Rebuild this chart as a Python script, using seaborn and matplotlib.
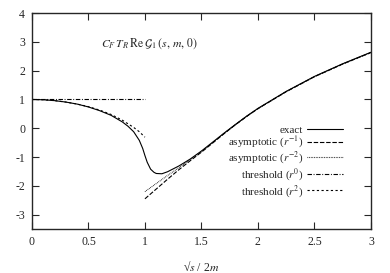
import matplotlib
matplotlib.use("Agg")
import matplotlib.pyplot as plt
import numpy as np
import pandas as pd
import seaborn as sbn

# exact curve
x_exact = [0, 0.1, 0.2, 0.3, 0.4, 0.5, 0.6, 0.7, 0.8, 0.85, 0.9, 0.95, 0.98, 1.0, 1.02,
           1.05, 1.08, 1.1, 1.15, 1.2, 1.3, 1.4, 1.5, 1.6, 1.7, 1.8, 1.9, 2.0, 2.25, 2.5,
           2.75, 3.0]
y_exact = [1.0, 0.99, 0.96, 0.91, 0.84, 0.74, 0.61, 0.45, 0.22, 0.07, -0.12, -0.42, -0.70,
           -0.95, -1.18, -1.42, -1.53, -1.57, -1.58, -1.51, -1.31, -1.07, -0.79, -0.48,
           -0.17, 0.13, 0.42, 0.69, 1.28, 1.80, 2.24, 2.64]

# asymptotic expansions (above threshold)
x_asym = [1.0, 1.1, 1.2, 1.3, 1.4, 1.5, 1.6, 1.7, 1.8, 1.9, 2.0, 2.25, 2.5, 2.75, 3.0]
y_asym1 = [-2.45, -2.11, -1.77, -1.44, -1.13, -0.83, -0.51, -0.19, 0.12, 0.41, 0.68,
           1.27, 1.79, 2.23, 2.63]
y_asym2 = [-2.20, -1.92, -1.64, -1.37, -1.10, -0.81, -0.50, -0.18, 0.12, 0.41, 0.68,
           1.27, 1.79, 2.23, 2.63]

# threshold expansions (below threshold)
x_thr = [0, 0.1, 0.2, 0.3, 0.4, 0.5, 0.6, 0.7, 0.8, 0.9, 0.95, 1.0]
y_thr0 = [1, 1, 1, 1, 1, 1, 1, 1, 1, 1, 1, 1]
y_thr2 = [1.0, 0.99, 0.96, 0.91, 0.84, 0.75, 0.63, 0.48, 0.28, 0.03, -0.12, -0.31]

x_ticks = [0, 0.5, 1, 1.5, 2, 2.5, 3]
x_tick_labels = ["0", "0.5", "1", "1.5", "2", "2.5", "3"]
y_ticks = [-3, -2, -1, 0, 1, 2, 3, 4]

sbn.set_style("ticks")
plt.rcParams["font.family"] = ["Liberation Serif", "DejaVu Serif"]
plt.rcParams["mathtext.fontset"] = "stix"
plt.rcParams["axes.unicode_minus"] = False

fig, ax = plt.subplots(figsize=(3.9, 2.73), dpi=100)
fig.subplots_adjust(left=0.082, right=0.951, top=0.952, bottom=0.161)

series = [
    (x_exact, y_exact, "exact", "-"),
    (x_asym, y_asym1, r"asymptotic ($r^{-1}$)", (0, (4, 1.6))),
    (x_asym, y_asym2, r"asymptotic ($r^{-2}$)", (0, (0.6, 0.9))),
    (x_thr, y_thr0, r"threshold ($r^{0}$)", (0, (4, 1.5, 0.8, 1.5))),
    (x_thr, y_thr2, r"threshold ($r^{2}$)", (0, (2, 2.2))),
]
for xs, ys, name, ls in series:
    df = pd.DataFrame({"x": xs, "y": ys})
    sbn.lineplot(data=df, x="x", y="y", color="black", linewidth=0.8,
                 linestyle=ls, label=name, ax=ax)

ax.set_xlim(0, 3)
ax.set_ylim(-3.5, 4)
ax.set_xticks(x_ticks)
ax.set_xticklabels(x_tick_labels)
ax.set_yticks(y_ticks)
ax.tick_params(direction="in", length=5, width=0.8, top=True, right=True,
               labelsize=8.5, pad=5)
for sp in ax.spines.values():
    sp.set_linewidth(1.0)
    sp.set_visible(True)

ax.set_xlabel("\u221a$s$ / 2$m$", fontsize=8.5, labelpad=9)
ax.set_ylabel("")
ax.text(0.615, 2.95, r"$C_F\,T_R\,\mathrm{Re}\;\mathcal{G}_1\,(s,\,m,\,0)$",
        fontsize=8.5, ha="left", va="center")

ax.legend(loc="lower right", bbox_to_anchor=(0.94, 0.10), frameon=False,
          markerfirst=False, fontsize=8, handlelength=3.2, handletextpad=0.35,
          labelspacing=0.0, borderpad=0.2)

fig.savefig("out.png", dpi=100)
